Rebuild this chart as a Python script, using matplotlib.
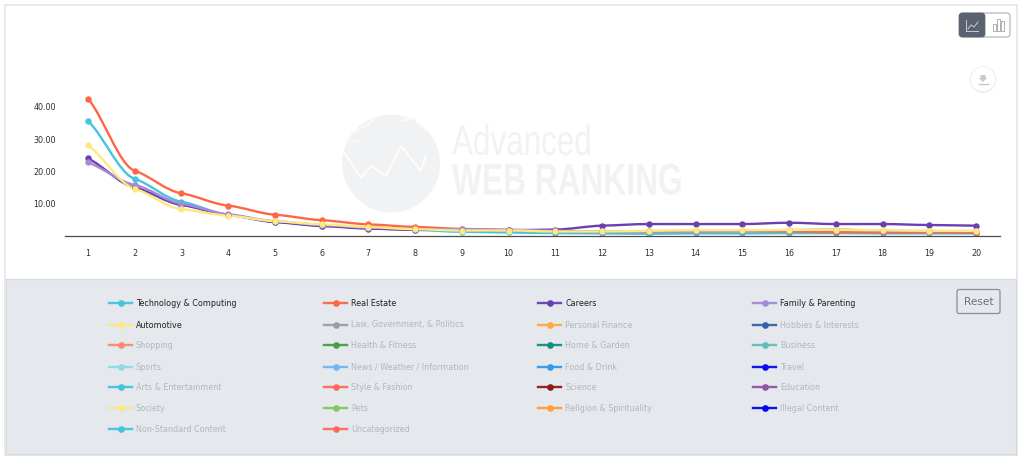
import matplotlib

matplotlib.use("Agg")
import matplotlib.pyplot as plt
from matplotlib.lines import Line2D
from matplotlib.patches import Circle, FancyBboxPatch, PathPatch, Polygon, Rectangle
from matplotlib.path import Path
from matplotlib.patheffects import AbstractPathEffect
from matplotlib.transforms import Affine2D
import numpy as np

WIDTH = 1024
HEIGHT = 459

POSITIONS = list(range(1, 21))
Y_TICKS = [10, 20, 30, 40]

TECHNOLOGY = [35.6, 17.7, 10.6, 6.6, 4.4, 3.2, 2.4, 1.9, 1.3, 1.1, 0.9, 0.8, 0.7, 0.8, 0.8, 0.9, 0.9, 0.8, 0.8, 0.8]
REAL_ESTATE = [42.5, 20.2, 13.2, 9.4, 6.6, 4.9, 3.6, 2.8, 2.2, 1.9, 1.6, 1.4, 1.4, 1.4, 1.5, 1.4, 1.2, 1.1, 1.1, 1.0]
CAREERS = [24.0, 15.0, 9.6, 6.5, 4.3, 3.1, 2.3, 1.9, 1.9, 1.8, 2.0, 3.2, 3.7, 3.7, 3.7, 4.1, 3.7, 3.7, 3.4, 3.2]
FAMILY = [22.8, 15.8, 10.0, 6.7, 4.6, 3.4, 2.6, 2.2, 2.1, 1.9, 1.6, 1.4, 1.5, 1.5, 1.6, 1.8, 2.0, 1.6, 1.5, 1.4]
AUTOMOTIVE = [28.1, 14.6, 8.3, 6.3, 4.6, 3.6, 2.8, 2.1, 1.7, 1.7, 1.4, 1.4, 1.6, 1.8, 1.8, 1.9, 1.9, 1.8, 1.6, 1.6]

SERIES = [
    (TECHNOLOGY, "#45c4dc"),
    (REAL_ESTATE, "#ff6644"),
    (CAREERS, "#6a3fb0"),
    (FAMILY, "#a58ad8"),
    (AUTOMOTIVE, "#fde97f"),
]

LEGEND_NAMES = [
    "Technology & Computing", "Real Estate", "Careers", "Family & Parenting",
    "Automotive", "Law, Government, & Politics", "Personal Finance", "Hobbies & Interests",
    "Shopping", "Health & Fitness", "Home & Garden", "Business",
    "Sports", "News / Weather / Information", "Food & Drink", "Travel",
    "Arts & Entertainment", "Style & Fashion", "Science", "Education",
    "Society", "Pets", "Religion & Spirituality", "Illegal Content",
    "Non-Standard Content", "Uncategorized",
]
LEGEND_COLORS = [
    "#45c4dc", "#ff6644", "#6a3fb0", "#a58ad8",
    "#fde97f", "#9a9ea3", "#ffa940", "#3465a8",
    "#ff8a6a", "#43a047", "#12907e", "#62bdbd",
    "#8adcea", "#75b5f0", "#3399f0", "#0a0aee",
    "#45c4dc", "#ff6a55", "#8b1a1a", "#8e55a5",
    "#fde58a", "#82c85a", "#ffa033", "#0505f0",
    "#45c4dc", "#ff6a55",
]
ACTIVE = {"Technology & Computing", "Real Estate", "Careers", "Family & Parenting", "Automotive"}


class Squeeze(AbstractPathEffect):
    # no narrow font is installed, so squeeze the glyphs sideways around a pixel column
    def __init__(self, anchor_x, factor):
        super().__init__()
        self.anchor_x = anchor_x
        self.factor = factor

    def draw_path(self, renderer, gc, tpath, affine, rgbFace=None):
        squeeze = Affine2D().translate(-self.anchor_x, 0).scale(self.factor, 1).translate(self.anchor_x, 0)
        renderer.draw_path(gc, tpath, affine + squeeze, rgbFace)


def smooth_path(xs, ys):
    # flat-shouldered cubic through the points, as bezier segments
    xs = np.asarray(xs, dtype=float)
    ys = np.asarray(ys, dtype=float)
    slopes = np.diff(ys) / np.diff(xs)
    tangents = np.zeros(len(xs))
    for i in range(1, len(xs) - 1):
        if slopes[i - 1] * slopes[i] > 0:
            tangents[i] = 0.9 * slopes[i - 1] * slopes[i] / (slopes[i - 1] + slopes[i])
    tangents[0] = 0.75 * slopes[0]
    tangents[-1] = 0.75 * slopes[-1]

    verts = [(xs[0], ys[0])]
    codes = [Path.MOVETO]
    for i in range(len(xs) - 1):
        step = (xs[i + 1] - xs[i]) / 3
        verts += [
            (xs[i] + step, ys[i] + tangents[i] * step),
            (xs[i + 1] - step, ys[i + 1] - tangents[i + 1] * step),
            (xs[i + 1], ys[i + 1]),
        ]
        codes += [Path.CURVE4] * 3
    return Path(verts, codes)


def draw_chrome(page):
    page.add_patch(Rectangle((5, 5), 1012, 450, fc="white", ec="#e3e5e8", lw=1.2))
    page.add_patch(Rectangle((6, 279), 1010, 175, fc="#e5e8ed", ec="#d5d8dc", lw=0.8))

    # toggle buttons
    page.add_patch(FancyBboxPatch((960, 13), 50, 24, boxstyle="round,pad=0,rounding_size=3", fc="white", ec="#a9aeb4", lw=0.8))
    page.add_patch(FancyBboxPatch((959, 13), 26, 24, boxstyle="round,pad=0,rounding_size=3", fc="#59626e", ec="#59626e", lw=0.5))
    page.plot([966, 966, 978], [20, 31, 31], color="#c9cdd2", lw=0.7)
    page.plot([968, 971, 974, 978], [29, 25, 27, 22], color="#c9cdd2", lw=0.7)
    for bar_left, bar_top in [(993, 24), (997, 19), (1001, 21)]:
        page.add_patch(Rectangle((bar_left, bar_top), 3, 31 - bar_top, fc="white", ec="#8d9399", lw=0.5))

    # download button
    page.add_patch(Circle((983, 80), 13.5, fc="#f5f5f6", ec="none"))
    page.add_patch(Circle((983, 79), 12.5, fc="white", ec="#efeff0", lw=0.6))
    page.add_patch(Polygon([(980.5, 75), (985.5, 75), (985.5, 78), (987, 78), (983, 82), (979, 78), (980.5, 78)], fc="#c6c9cb", ec="none"))
    page.plot([978.5, 987.5], [84, 84], color="#c6c9cb", lw=1)

    # reset button
    page.add_patch(FancyBboxPatch((957, 289.5), 43, 24, boxstyle="round,pad=0,rounding_size=2", fc="#e5e8ed", ec="#8b9096", lw=0.9))
    page.text(978.5, 302, "Reset", ha="center", va="center", fontsize=7.6, color="#6d7278")


def draw_watermark(page):
    grey = "#f1f2f3"
    page.add_patch(Circle((391, 163.5), 49, fc=grey, ec="none", zorder=1))
    # mountain outline and coastline streaks cut out of the disc
    page.plot([343, 361, 371, 386, 401, 421, 426], [151, 178, 166, 176, 146, 171, 155], color="white", lw=1.2, zorder=1)
    page.plot([351, 365, 376], [133, 126, 118], color="#fafafa", lw=1.3, zorder=1)
    page.plot([348, 361], [139, 142], color="#fafafa", lw=1.3, zorder=1)
    page.plot([401, 413, 426], [121, 118, 131], color="#fafafa", lw=1.3, zorder=1)

    page.text(452, 144, "Advanced", ha="left", va="center", fontsize=31, color=grey, zorder=1,
              family="Liberation Sans", path_effects=[Squeeze(452, 0.73)])
    page.text(452, 183, "WEB RANKING", ha="left", va="center", fontsize=32, color=grey, zorder=1,
              family="Liberation Sans", weight="bold", path_effects=[Squeeze(452, 0.713)])


def draw_legend(page):
    col_x = [109, 324, 538, 753]
    row_y = [303, 324.5, 345, 366.5, 387, 408, 428.5]
    for index, (name, color) in enumerate(zip(LEGEND_NAMES, LEGEND_COLORS)):
        row, col = divmod(index, 4)
        x = col_x[col]
        y = row_y[row]
        page.add_line(Line2D([x, x + 23], [y, y], color=color, lw=1.7, alpha=0.95))
        page.add_line(Line2D([x + 11.5], [y], color=color, marker="o", ms=4.8, mew=0))
        page.text(x + 27, y + 0.5, name, ha="left", va="center", fontsize=5.8,
                  color="#222222" if name in ACTIVE else "#b3b6ba")


def main():
    fig = plt.figure(figsize=(WIDTH / 100, HEIGHT / 100), dpi=100)

    page = fig.add_axes([0, 0, 1, 1])
    page.set_xlim(0, WIDTH)
    page.set_ylim(HEIGHT, 0)
    page.axis("off")
    draw_chrome(page)
    draw_watermark(page)
    draw_legend(page)

    # chart axes span px 65..1000 across and px 86..236 down
    left, right, top, bottom = 65, 1000, 86, 236
    axis = fig.add_axes([left / WIDTH, 1 - bottom / HEIGHT, (right - left) / WIDTH, (bottom - top) / HEIGHT])
    axis.patch.set_alpha(0)
    per_position = (976 - 88) / 19
    axis.set_xlim(1 - (88 - left) / per_position, 20 + (right - 976) / per_position)
    axis.set_ylim(0, (bottom - top) / 3.23)

    for values, color in SERIES:
        axis.add_patch(PathPatch(smooth_path(POSITIONS, values), fc="none", ec=color, lw=1.7, capstyle="round"))
        axis.plot(POSITIONS, values, "o", color=color, ms=4.6, mew=0)

    for side in ["top", "left", "right"]:
        axis.spines[side].set_visible(False)
    axis.spines["bottom"].set_color("#4a4d50")
    axis.spines["bottom"].set_linewidth(0.9)
    axis.set_xticks(POSITIONS)
    axis.set_yticks(Y_TICKS, [f"{tick:.2f}" for tick in Y_TICKS])
    axis.tick_params(axis="both", length=0, labelsize=5.8, colors="#2e2e2e")
    axis.tick_params(axis="x", pad=9)
    axis.tick_params(axis="y", pad=6.5)

    fig.savefig("out.png", dpi=100)


if __name__ == "__main__":
    main()
